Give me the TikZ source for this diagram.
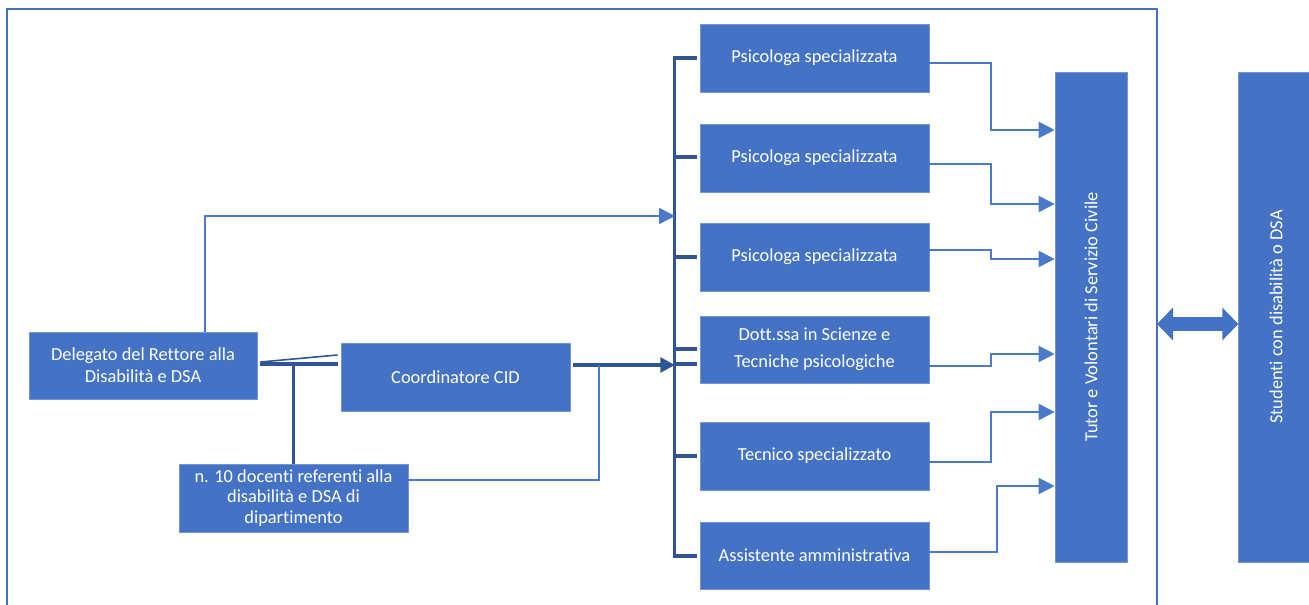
\documentclass[tikz,border=0pt]{standalone}
\usepackage{fontspec}
\setmainfont{Carlito}[Ligatures=NoCommon]
\usetikzlibrary{arrows.meta,calc}
\definecolor{boxblue}{HTML}{4472C4}
\definecolor{darkblue}{HTML}{2F5597}
\definecolor{thinblue}{HTML}{4A78CA}
\tikzset{
  box/.style={rectangle, fill=boxblue, draw=boxblue!75!white, line width=0.5pt, text=white, inner sep=0pt, align=center, font=\fontsize{13.8}{16.5}\selectfont},
  wbox/.style={box, minimum width=171.75pt, minimum height=51pt},
  thinln/.style={draw=thinblue, line width=1.4pt},
  thickln/.style={draw=darkblue, line width=2.6pt},
  tri/.style={-{Triangle[length=12pt,width=12pt]}},
}
\begin{document}
\begin{tikzpicture}[x=0.75pt,y=-0.75pt]
\useasboundingbox (0,0) rectangle (1309,605);
\clip (0,0) rectangle (1309,605);
% frame
\coordinate (frNW) at (7,9);
\coordinate (frSE) at (1157,640);
\draw[draw=boxblue, line width=1.6pt] (frNW) rectangle (frSE);
% nodes
\node[box, minimum width=171pt, minimum height=50.25pt] (dele) at (143,365.5) {Delegato del Rettore alla\\Disabilità e DSA};
\node[wbox] (coord) at (455.5,377) {Coordinatore CID};
\node[wbox, font=\fontsize{13.8}{15.4}\selectfont] (doc) at (293.5,498) {n. 10 docenti referenti alla\\disabilità e DSA di\\dipartimento};
\node[wbox] (psa) at (814.5,58) {Psicologa specializzata};
\node[wbox] (psb) at (814.5,158) {Psicologa specializzata};
\node[wbox] (psc) at (814.5,257) {Psicologa specializzata};
\node[wbox, minimum height=50.25pt, font=\fontsize{13.8}{20}\selectfont] (dott) at (814.5,349.5) {Dott.ssa in Scienze e\\Tecniche psicologiche};
\node[wbox] (tec) at (814.5,456) {Tecnico specializzato};
\node[wbox, minimum height=50.25pt] (ass) at (814.5,555.5) {Assistente amministrativa};
\node[box, minimum width=54pt, minimum height=367.5pt] (tut) at (1091,317) {\rotatebox{90}{Tutor e Volontari di Servizio Civile}};
\node[box, minimum width=56pt, minimum height=367.5pt] (stu) at (1276,317) {\rotatebox{90}{Studenti con disabilità o DSA}};
% bracket coordinates
\coordinate (bA) at (675,216);
\coordinate (bC) at (675,365);
\coordinate (jn) at (599,365);
% bracket
\draw[thickln] ($(psa.west)+(-3,0)$) -- ++(-22,0) |- ($(ass.west)+(-3,0.5)$);
\draw[thickln] ($(psb.west)+(-3,-1)$) -- ($(psb.west)+(-25,-1)$);
\draw[thickln] ($(psc.west)+(-3,0)$) -- ($(psc.west)+(-25,0)$);
\draw[thickln] ($(dott.west)+(-3,-0.5)$) -- ($(dott.west)+(-25,-0.5)$);
\draw[thickln] ($(dott.west)+(-3,14.5)$) -- ($(dott.west)+(-25,14.5)$);
\draw[thickln] ($(tec.west)+(-3,0)$) -- ($(tec.west)+(-25,0)$);
% Delegato -> bracket
\draw[thinln, tri] ($(dele.north)+(62,0)$) |- (bA);
% Coordinatore -> bracket
\draw[thickln, -{Triangle[length=11pt,width=11pt]}] ($(coord.east |- bC)+(3,0)$) -- (bC);
% docenti -> junction
\draw[thinln] ($(doc.east)+(0,-18)$) -| (jn);
% Delegato - Coordinatore
\draw[thickln] ($(dele.east)+(3,-1.5)$) -- ($(coord.west)+(-3,-13)$);
\draw[draw=darkblue, line width=1.2pt] ($(dele.east)+(3,-3.5)$) -- ($(coord.west)+(-3,-22)$);
\draw[thickln] (doc.north) -- (doc.north |- 0,364);
% boxes -> tutor
\draw[thinln, tri] ($(psa.east)+(0,5)$) -- ++(62,0) |- (tut.west |- 0,130);
\draw[thinln, tri] ($(psb.east)+(0,6)$) -- ++(62,0) |- (tut.west |- 0,204);
\draw[thinln, tri] ($(psc.east)+(0,-7)$) -- ++(62,0) |- (tut.west |- 0,259);
\draw[thinln, tri] ($(dott.east)+(0,16.5)$) -- ++(62,0) |- (tut.west |- 0,354);
\draw[thinln, tri] ($(tec.east)+(0,6)$) -- ++(62,0) |- (tut.west |- 0,412);
\draw[thinln, tri] ($(ass.east)+(0,-3.5)$) -- ++(68,0) |- (tut.west |- 0,486);
% double arrow
\coordinate (fr) at (1157,324);
\draw[draw=boxblue, line width=10.5pt, {Triangle[length=12pt,width=24pt]}-{Triangle[length=12pt,width=24pt]}] (fr) -- (stu.west |- fr);
\end{tikzpicture}
\end{document}
